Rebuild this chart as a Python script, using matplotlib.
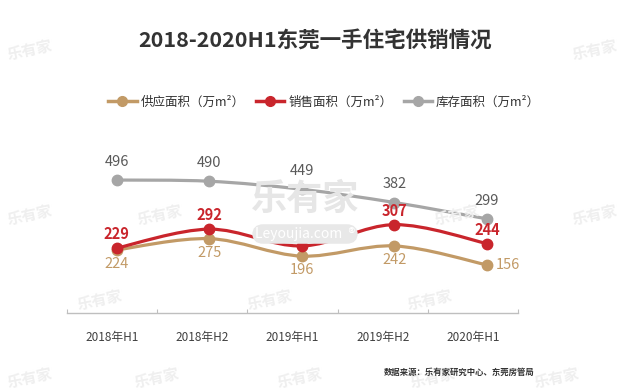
import matplotlib
matplotlib.use('Agg')
import matplotlib.pyplot as plt
from matplotlib.path import Path
from matplotlib.patches import PathPatch
from matplotlib.lines import Line2D

plt.rcParams['font.family'] = ['Noto Sans CJK SC', 'DejaVu Sans']

# 数据
periods = ['2018年H1', '2018年H2', '2019年H1', '2019年H2', '2020年H1']
supply = [224, 275, 196, 242, 156]
sales = [229, 292, 236, 307, 244]
stock = [496, 490, 449, 382, 299]
names = ['供应面积（万m²）', '销售面积（万m²）', '库存面积（万m²）']

colors = ['#C29A66', '#C9252C', '#A6A6A6']
label_colors = ['#C29A66', '#C9252C', '#595959']

W, H = 622, 392


def smooth_path(x, y):
    # Catmull-Rom -> Bezier, 像 Excel 的平滑线
    n = len(x)
    verts = [(x[0], y[0])]
    codes = [Path.MOVETO]
    for i in range(n - 1):
        a = max(i - 1, 0)
        b = min(i + 2, n - 1)
        c1 = (x[i] + (x[i + 1] - x[a]) / 6, y[i] + (y[i + 1] - y[a]) / 6)
        c2 = (x[i + 1] - (x[b] - x[i]) / 6, y[i + 1] - (y[b] - y[i]) / 6)
        verts += [c1, c2, (x[i + 1], y[i + 1])]
        codes += [Path.CURVE4] * 3
    return Path(verts, codes)


fig = plt.figure(figsize=(W / 100, H / 100), dpi=100)

# 水印
fig.text(305 / W, 1 - 199 / H, '乐有家', fontsize=26, color='#e6e6e6',
         ha='center', va='center', weight='bold', zorder=0)
fig.text(305 / W, 1 - 234 / H, 'Leyoujia.com  ®', fontsize=10, color='white',
         ha='center', va='center', zorder=0,
         bbox=dict(boxstyle='round,pad=0.2,rounding_size=0.8', fc='#e8e8e8', ec='none'))
for (wx, wy) in [(30, 50), (595, 50), (30, 215), (160, 215), (457, 215), (595, 215),
                 (100, 300), (270, 300), (430, 300), (30, 378), (157, 378),
                 (300, 378), (433, 378), (557, 378)]:
    fig.text(wx / W, 1 - wy / H, '乐有家', fontsize=11, color='#efefef',
             ha='center', va='center', rotation=12, weight='bold', zorder=0)

# 分类轴
ax0 = fig.add_axes([67 / W, (H - 313) / H, 451 / W, 0.3])
ax0.set_xlim(0, 5)
ax0.set_ylim(0, 1)
ax0.patch.set_alpha(0)
for s in ['top', 'left', 'right']:
    ax0.spines[s].set_visible(False)
ax0.spines['bottom'].set_color('#BFBFBF')
ax0.spines['bottom'].set_linewidth(1)
ax0.set_yticks([])
ax0.set_xticks(range(6))
ax0.set_xticklabels([])
ax0.tick_params(axis='x', which='major', direction='in', length=3, color='#BFBFBF')
ax0.set_xticks([i + 0.5 for i in range(5)], minor=True)
ax0.set_xticklabels(periods, minor=True, fontsize=8.5, color='#404040')
ax0.tick_params(axis='x', which='minor', length=0, pad=13)

# 三条线，各自的刻度
series = [supply, sales, stock]
ylims = [(-419, 1355), (-251, 1056), (-580, 1410)]
offsets = [(0, -10), (0, 10), (0, 13)]
xs = list(range(len(periods)))
for k in [2, 0, 1]:
    ax = fig.add_axes([67 / W, 0, 451 / W, 1])
    ax.set_xlim(-0.537, 4.335)
    ax.set_ylim(*ylims[k])
    ax.axis('off')
    ax.patch.set_alpha(0)
    ax.add_patch(PathPatch(smooth_path(xs, series[k]), fc='none',
                           ec=colors[k], lw=2.3, capstyle='round'))
    ax.plot(xs, series[k], 'o', color=colors[k], markersize=7.5, zorder=3)
    for i, v in enumerate(series[k]):
        dx, dy = offsets[k]
        ha = 'center'
        if k == 0 and i == len(xs) - 1:
            dx, dy, ha = 6, 0, 'left'
        ax.annotate(str(v), (i, v), xytext=(dx, dy), textcoords='offset points',
                    ha=ha, va='center', fontsize=10.5, color=label_colors[k],
                    weight='bold' if k == 1 else 'normal')

# 标题
fig.text(315 / W, 1 - 40 / H, '2018-2020H1东莞一手住宅供销情况', fontsize=15.5,
         weight='bold', color='#333333', ha='center', va='center')

# 图例
handles = [Line2D([], [], color=c, lw=2.5, marker='o', markersize=7) for c in colors]
fig.legend(handles, names, loc='center', bbox_to_anchor=(324 / W, 1 - 102 / H),
           ncol=3, frameon=False, fontsize=9, handlelength=2.3, handletextpad=0.3,
           columnspacing=0.9, labelcolor='#333333')

# 数据来源
fig.text(535 / W, 1 - 372 / H, '数据来源：乐有家研究中心、东莞房管局', fontsize=6,
         weight='bold', color='#333333', ha='right', va='center')

plt.savefig('out.png', dpi=100)
